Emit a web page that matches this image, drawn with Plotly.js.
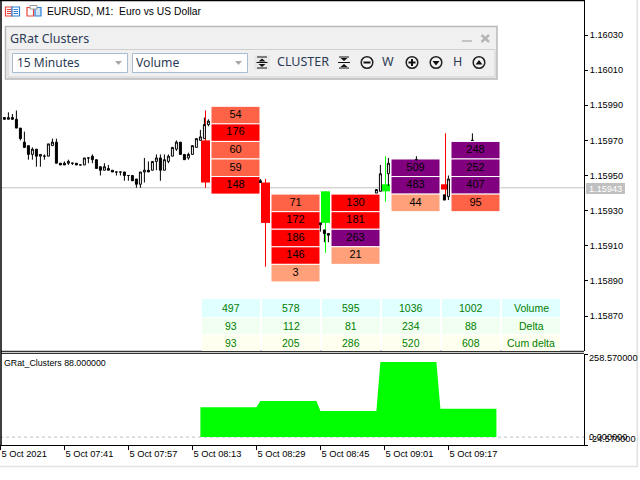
<!DOCTYPE html>
<html><head><meta charset="utf-8">
<script src="https://cdn.plot.ly/plotly-3.0.1.min.js"></script>
<style>html,body{margin:0;padding:0;background:#fff}#c{width:640px;height:480px}</style>
</head><body><div id="c"></div>
<script>
// M1 candles, prices as points above 1.15000
const m1Minute=[1,2,3,4,5,6,7,8,9,10,11,12,13,14,15,16,17,18,19,20,21,22,23,24,25,26,27,28,29,30,31,32,33,34,35,36,37,38,39,40,41,42,43,44,45,46,47,48,49,50,51,52,65,80,81,82,94,95,97,104,111,112,118];
const m1Open =[983,982,983,982,977,969,967,962,965,961,961,961,967,969,957,957,957,957,957,956,956,960,961,959,955,953,954,953,952,952,952,950,950,948,945,952,953,953,958,960,953,958,961,965,969,962,960,962,966,970,971,979,947,923,919,917,940,941,951,959,939,938,970];
const m1High =[983,986,985,987,977,975,967,966,965,962,962,968,971,971,957,958,959,957,957,956,960,960,962,959,955,957,956,953,952,952,952,950,950,948,952,960,958,958,962,962,962,962,966,970,969,962,963,967,971,976,983,982,948,923,919,917,942,956,960,961,939,950,974];
const m1Low  =[982,982,982,977,970,966,959,959,955,955,959,961,967,957,956,956,956,956,956,956,956,957,957,954,950,953,953,952,950,950,947,947,947,943,943,946,952,953,953,947,953,957,961,964,962,959,959,962,966,970,971,978,946,918,912,912,940,941,944,959,936,936,970];
const m1Close=[982,983,982,977,971,966,962,965,961,962,961,968,969,957,956,956,958,957,956,956,960,960,959,954,953,955,953,952,952,952,950,950,947,945,952,953,952,958,960,953,959,961,966,969,962,959,962,967,971,972,979,981,946,922,917,916,942,951,957,959,936,948,970];

// 15 minute candles
const bigMinute=[51.275,66.275,81.275,96.275,111.275];
const bigOpen =[970,946,923,941,945];
const bigHigh =[987,948,941,961,974];
const bigLow  =[943,898,906,935,936];
const bigClose=[946,923,941,945,942];

// clusters: one list per column, top level first
const clusterMinute=[58.775,73.775,88.775,103.775,118.775];
const clusterTop=[984.4,934.4,934.4,954.4,964.4];
const clusterVolumes=[
  [54,176,60,59,148],
  [71,172,186,146,3],
  [130,181,263,21],
  [509,483,44],
  [248,252,407,95]
];

// summary table
const tableVolume=[497,578,595,1036,1002];
const tableDelta=[93,112,81,234,88];
const tableCum=[93,205,286,520,608];
const tableLabels=['Volume','Delta','Cum delta'];

// lower panel outline
const subX=[50,64,65,79,80,94,95,109,110,124];
const subY=[93,93,112,112,81,81,234,234,88,88];

const priceTicks=[1.1603,1.1601,1.1599,1.1597,1.1595,1.1593,1.1591,1.1589,1.1587];
const timeTickMinute=[0,16,32,48,64,80,96,112];
const timeTickText=['5 Oct 2021','5 Oct 07:41','5 Oct 07:57','5 Oct 08:13','5 Oct 08:29','5 Oct 08:45','5 Oct 09:01','5 Oct 09:17'];
const lastPrice=1.15943;

const P=v=>1.15+v*1e-5;
const W=584,H=445;
const FONT='"Liberation Sans",Arial,sans-serif';
const UI='"Noto Sans","Open Sans",sans-serif';
const px=x=>x/W, py=y=>1-y/H;

const cellColor=v=>v<50?'#ffa07a':v<100?'#ff6347':v<200?'#ff0000':'#800080';

// cell flatten
const cx=[],cy=[],ct=[],cc=[];
clusterVolumes.forEach((col,i)=>col.forEach((v,j)=>{
  cx.push(clusterMinute[i]);cy.push(P(clusterTop[i]-10*j));ct.push(String(v));cc.push(cellColor(v));
}));

const traces=[
 {type:'candlestick',x:m1Minute,open:m1Open.map(P),high:m1High.map(P),low:m1Low.map(P),close:m1Close.map(P),
  xaxis:'x',yaxis:'y',whiskerwidth:0,hoverinfo:'skip',
  increasing:{line:{color:'#000',width:1},fillcolor:'#fff'},
  decreasing:{line:{color:'#000',width:1},fillcolor:'#000'}},
 // wicks of the 15 minute candles
 {type:'bar',x:bigMinute,base:bigLow.map(P),y:bigHigh.map((h,i)=>(h-bigLow[i])*1e-5),width:0.25,xaxis:'x',yaxis:'y',
  marker:{color:bigClose.map((c,i)=>c>bigOpen[i]?'#00ff00':'#ff0000'),line:{width:0}},hoverinfo:'skip'},
 // bodies
 {type:'bar',x:bigMinute,base:bigOpen.map((o,i)=>P(Math.min(o,bigClose[i]))),y:bigOpen.map((o,i)=>Math.abs(o-bigClose[i])*1e-5),width:2.25,xaxis:'x',yaxis:'y',
  marker:{color:bigClose.map((c,i)=>c>bigOpen[i]?'#00ff00':'#ff0000'),line:{width:0}},hoverinfo:'skip'},
 // cluster cells
 {type:'bar',x:cx,base:cy.map(v=>v-5e-5),y:cy.map(()=>1e-4),width:12.25,xaxis:'x',yaxis:'y',
  marker:{color:cc,line:{color:'#fff',width:1}},hoverinfo:'skip'},
 {type:'scatter',mode:'text',x:cx,y:cy,text:ct,textposition:'middle center',xaxis:'x',yaxis:'y',
  textfont:{family:FONT,size:11,color:'#000'},hoverinfo:'skip'},
 // lower panel
 {type:'scatter',mode:'lines',x:subX,y:subY,xaxis:'x',yaxis:'y2',fill:'tozeroy',fillcolor:'#00ff00',
  line:{width:0,color:'#00ff00'},hoverinfo:'skip'}
];

const shapes=[];
const rect=(x0,y0,x1,y1,fill,line,lw)=>shapes.push({type:'rect',xref:'paper',yref:'paper',x0:px(x0),x1:px(x1),y0:py(y0),y1:py(y1),fillcolor:fill||'rgba(0,0,0,0)',line:{color:line||'rgba(0,0,0,0)',width:line?(lw||1):0},layer:'above'});
const seg=(x0,y0,x1,y1,c,lw)=>shapes.push({type:'line',xref:'paper',yref:'paper',x0:px(x0),x1:px(x1),y0:py(y0),y1:py(y1),line:{color:c,width:lw||1},layer:'above'});
const circ=(x,y,r,fill,line,lw)=>shapes.push({type:'circle',xref:'paper',yref:'paper',x0:px(x-r),x1:px(x+r),y0:py(y-r),y1:py(y+r),fillcolor:fill,line:{color:line,width:lw||1},layer:'above'});
const poly=(pts,fill)=>shapes.push({type:'path',xref:'paper',yref:'paper',path:'M'+pts.map(p=>px(p[0])+','+py(p[1])).join('L')+'Z',fillcolor:fill,line:{width:0},layer:'above'});

// price line and zero line, under the marks
shapes.push({type:'line',xref:'paper',yref:'y',x0:0,x1:1,y0:lastPrice,y1:lastPrice,line:{color:'#c0c0c0',width:1},layer:'below'});
shapes.push({type:'line',xref:'paper',yref:'y2',x0:0,x1:1,y0:0,y1:0,line:{color:'#c0c0c0',width:1,dash:'3px,3px'},layer:'below'});

// frame
seg(0,0.5,584,0.5,'#000',1.5);
seg(1,0,1,445,'#000',1.5);
seg(1,351.3,584,351.3,'#000',1);
seg(1,353.3,584,353.3,'#000',1);
seg(0,466.5,637,466.5,'#e4e4e4',1.5);
seg(637.3,0,637.3,467,'#e0e0e0',1.5);

// window icons
rect(5.5,7,12,16,'#fff','#e8443a',1.2);
rect(12,7,19.5,16,'#fff','#2f7fd6',1.2);
seg(7,9.5,11,9.5,'#e8443a',1);seg(7,11.5,11,11.5,'#e8443a',1);seg(7,13.5,11,13.5,'#e8443a',1);
seg(13.5,9.5,18,9.5,'#2f7fd6',1);seg(13.5,11.5,18,11.5,'#2f7fd6',1);seg(13.5,13.5,18,13.5,'#2f7fd6',1);
rect(27,7.5,33.5,16,'#fff','#e8443a',1.2);
rect(35,7.5,41,16,'#cfe4f6','#2f7fd6',1.2);
rect(30,5.5,37,9,'#fff','#9a9a9a',1);

// control panel
rect(5.5,26.5,497,79,'#f0f0f0','#b8b8b8',1.5);
rect(8,49.5,495,77,'#f0f0f0','#d0d0d0',1);
rect(12.5,53.5,127.5,72.5,'#fff','#a9bdd2',1);
rect(132.5,53.5,247.5,72.5,'#fff','#a9bdd2',1);
poly([[115,61],[122,61],[118.5,65]],'#a8a8a8');
poly([[235,61],[242,61],[238.5,65]],'#a8a8a8');
// expand icon
rect(254,55,270,70,'#e8e8e8');
seg(256.5,62.5,267.5,62.5,'#111',1);seg(257,68,267,68,'#111',1);seg(257,57,267,57,'#111',1);
poly([[262,58.5],[265.5,61.5],[258.5,61.5]],'#111');poly([[262,67],[265.5,64],[258.5,64]],'#111');
// collapse icon
seg(338,62.5,350,62.5,'#111',1);seg(339,57,349,57,'#111',1);seg(339,68,349,68,'#111',1);
poly([[344,61],[340.5,58],[347.5,58]],'#111');poly([[344,64],[340.5,67],[347.5,67]],'#111');
// round buttons
[367,412,436,479].forEach(x=>circ(x,62.5,5.8,'#f4f4f4','#222',1.5));
seg(363.5,62.5,370.5,62.5,'#111',2);
seg(408.5,62.5,415.5,62.5,'#111',2);seg(412,59,412,66,'#111',2);
poly([[432.5,61],[439.5,61],[436,65.5]],'#111');
poly([[475.5,64.5],[482.5,64.5],[479,60]],'#111');
// title bar glyphs
seg(462,41,472,41,'#b4b4b4',1.5);
seg(481.5,35,489,42,'#b4b4b4',2.4);seg(489,35,481.5,42,'#b4b4b4',2.4);

const annotations=[];
const note=(x,y,t,o={})=>annotations.push({xref:'paper',yref:'paper',x:px(x),y:py(y),text:t,showarrow:false,
  xanchor:o.a||'left',yanchor:'middle',borderpad:0,borderwidth:0,
  font:{family:o.f||FONT,size:o.s||10,color:o.c||'#000'}});

note(47,11.5,'EURUSD, M1:\u00a0\u00a0Euro vs US Dollar',{s:10.3});
note(10,38.5,'GRat Clusters',{f:UI,s:12.5,c:'#2b3a55'});
note(16.5,63,'15 Minutes',{f:UI,s:12,c:'#2b3a55'});
note(136,63,'Volume',{f:UI,s:12.2,c:'#2b3a55'});
note(276.5,62,'CLUSTER',{f:UI,s:12.5,c:'#2b3a55'});
note(388,62,'W',{f:UI,s:12.5,c:'#2b3a55',a:'center'});
note(457,62,'H',{f:UI,s:12.5,c:'#2b3a55',a:'center'});

// table
const rowTop=[299,318,335],rowBot=[317,334,351],rowFill=['#e0ffff','#f0fff0','#fffff0'];
const colLeft=[202,262,322,382,442,502];
[tableVolume,tableDelta,tableCum].forEach((row,r)=>{
  colLeft.forEach((l,c)=>{
    rect(l,rowTop[r],l+58,rowBot[r],rowFill[r]);
    note(l+29,(rowTop[r]+rowBot[r])/2,c<5?String(row[c]):tableLabels[r],{a:'center',s:10.5,c:'#008000'});
  });
});

// lower panel texts
note(4,362.7,'GRat_Clusters 88.000000',{s:8.8});
note(589,358,'258.570000',{s:9.2});
note(589,436.7,'0.000000',{s:9.2});
note(589,439.3,'-24.570000',{s:9.2});

// last price tag
rect(586,183,625,194,'#c0c0c0');
note(605.5,188.7,lastPrice.toFixed(5),{s:9.2,c:'#fff',a:'center'});

const layout={
 width:640,height:480,margin:{l:0,r:56,t:0,b:35},paper_bgcolor:'#fff',plot_bgcolor:'#fff',
 showlegend:false,barmode:'overlay',hovermode:false,
 xaxis:{domain:[0,1],range:[-0.1,145.9],anchor:'y2',type:'linear',rangeslider:{visible:false},showgrid:false,zeroline:false,
   showline:true,linecolor:'#000',linewidth:1,ticks:'outside',ticklen:4,tickcolor:'#000',tickwidth:1,
   tickmode:'array',tickvals:timeTickMinute,ticktext:timeTickText,ticklabelposition:'outside right',
   tickfont:{family:FONT,size:9.3,color:'#000'}},
 yaxis:{domain:[1-351/445,1],range:[P(950-175.5*0.5694),P(950+175.5*0.5694)],anchor:'x',side:'right',showgrid:false,zeroline:false,
   showline:true,linecolor:'#000',linewidth:1,ticks:'outside',ticklen:3,tickcolor:'#000',tickwidth:1,
   tickmode:'array',tickvals:priceTicks,ticktext:priceTicks.map(v=>v.toFixed(5)),
   tickfont:{family:FONT,size:9.2,color:'#000'}},
 yaxis2:{domain:[0,91/445],range:[-24.57,258.57],anchor:'x',side:'right',showgrid:false,zeroline:false,
   showline:true,linecolor:'#000',linewidth:1,ticks:'outside',ticklen:3,tickcolor:'#000',tickwidth:1,
   tickmode:'array',tickvals:[258.57,-24.57],ticktext:['',''],
   tickfont:{family:FONT,size:9.2,color:'#000'}},
 shapes,annotations
};
Plotly.newPlot('c',traces,layout,{displayModeBar:false,staticPlot:true});
</script></body></html>
